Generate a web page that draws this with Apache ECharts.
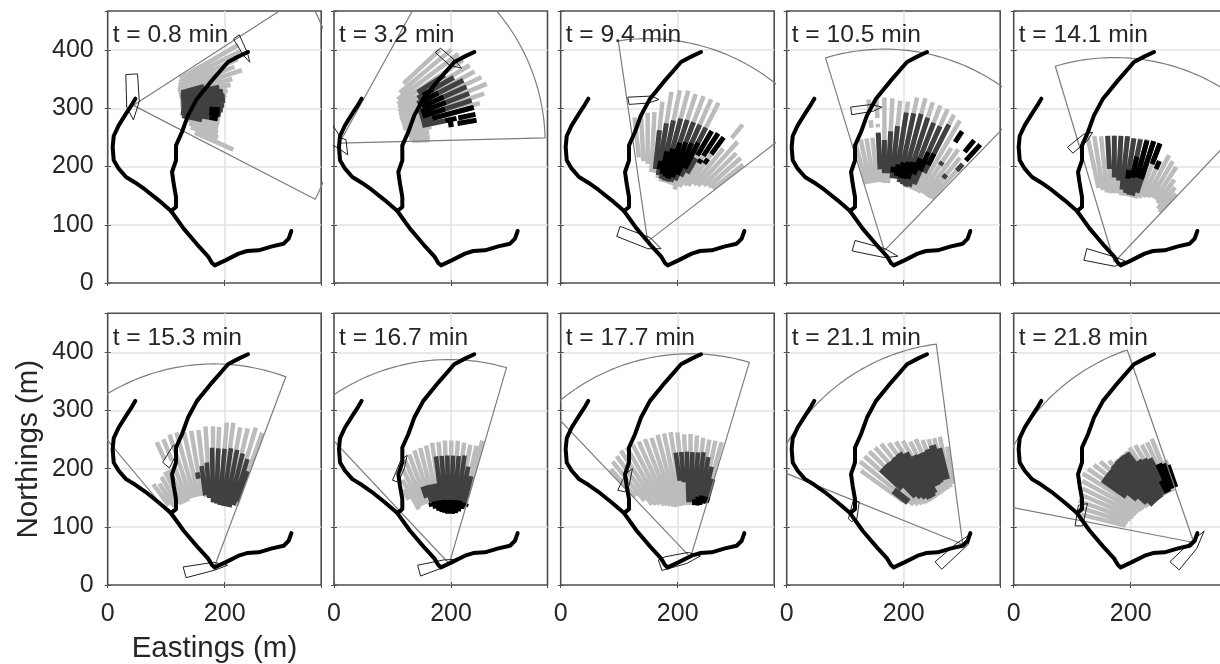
<!DOCTYPE html>
<html><head><meta charset="utf-8">
<style>html,body{margin:0;padding:0;background:#fff;overflow:hidden}#c{width:1220px;height:664px}#c canvas{filter:blur(0.5px)}</style>
<script src="https://cdn.jsdelivr.net/npm/echarts@6/dist/echarts.min.js"></script>
</head><body><div id="c"></div>
<script>
// Shoreline traces, metres (eastings, northings)
const shoreMain=[[47.3,316.5],[41.6,306.7],[31.3,290.7],[18.8,270.7],[10.3,252.4],[8.5,233.5],[10.3,210.6],[18.8,196.3],[31.3,182],[47.3,172.2],[64.4,160.2],[87.2,141.9],[108.3,123.6],[129.9,93.3],[152.7,66.4],[171.5,45.8],[178.3,34.3],[182.9,30.3],[201.1,38.9],[223.9,50.4],[238.2,54.9],[258.1,56.1],[280.9,62.9],[300.9,67.5],[309.4,76.1],[314,89.3]];
const shoreBranch=[[108.3,123.6],[116.8,130.5],[116.8,147.6],[112.8,170.5],[110,190.6],[116.8,210.6],[116.8,236.3],[127,259.2],[137.3,287.8],[152.7,316.5],[178.3,347.9],[205.7,379.4],[223.9,389.1],[239.9,396.6]];
const timesMin=['0.8','3.2','9.4','10.5','14.1','15.3','16.7','17.7','21.1','21.8'];
const xTickLabels=[0,200];
const yTickLabels=[0,100,200,300,400];
// Radar origins [E,N], sector [bearing from, bearing to, range]
const origins=[[44,305],[9,240],[148.7,71.5],[167,55.5],[172,36],[182,30],[197,36.5],[222,47.4],[301,70],[308,73]];
const sectors=[[57,117.4,350],[28.8,88.5,352],[-8.3,52.3,348],[-16.9,44,346],[-16.7,43.4,351],[-39.8,20.5,350],[-43,16.2,351],[-43.4,16.7,350],[-68,-7.5,347],[-79,-19,350]];
// Vessel outlines [E,N]
const boatsA=[[[31,358],[51,359],[54,312],[44,280],[32.5,302]],[[-5,275],[12,249],[20.5,246],[23.4,220],[9,230.5],[-5,238]],[[114.6,319],[155.6,321],[168,315],[149.9,309],[117,306.6]],[[109.4,302],[145,306.6],[162.5,302],[148,295],[111,289]],[[92,233],[119,255],[135,259],[126,244],[101,223]],[[94,211],[112,240],[119,240],[115,220],[105.5,201]],[[100,180],[114,214],[125,223],[120,200],[110,177]],[[97.5,163],[111,191],[122.6,200],[117,171],[110,160]],[[105.5,114],[114,145.6],[124,143],[120,114],[111,109]],[[105,101.6],[110.6,137],[126,140],[118,101.6]]];
const boatsB=[[[215,419],[225,426],[239,395],[243,379],[232,391]],[[173,396],[182.4,403],[207,382],[218,369],[198,373.5]],[[101.5,97.2],[153,77.8],[171.6,58.9],[148.8,58.9],[95.8,80]],[[116.9,73],[168,59],[190,46],[168,43.5],[112,55]],[[125,59],[173,44.6],[190,38],[173,28.6],[120,39]],[[129,31],[181,39],[205,34],[183.5,25.7],[134,12.6]],[[143,34],[187,43],[212.6,44.5],[190,31.4],[148,15.4]],[[167,43],[178.4,48.5],[218,56],[239,50],[215.5,37],[173,25]],[[253.6,40],[291,72],[313.7,87],[310.6,70],[265,27]],[[267,40],[301.5,73],[325.5,92.5],[313,63],[283,26]]];
// Radar beams: [bearing deg, near range m, far range m]
const light1=[[60,92,207],[63,88,205],[66,85,195],[69,82,185],[72,80,195],[75,80,175],[78,80,170],[81,80,163],[84,80,160],[87,80,157],[90,80,155],[93,82,153],[96,85,150],[99,88,150],[102,92,150],[105,95,150],[108,100,152],[111,105,155],[114,115,187]];
const dark1=[[75,85,125],[78,83,150],[81,82,155],[84,82,157],[87,82,157],[90,82,155],[93,82,153],[96,82,150],[99,82,145],[102,85,120]];
const black1=[[93,130,148],[96,130,148],[99,132,146]];
const light2=[[47,150,235],[50,135,250],[53,125,255],[56,120,255],[59,118,260],[62,115,262],[65,113,268],[68,112,272],[71,112,262],[74,112,250],[77,112,170],[80,115,160],[83,118,155],[86,120,155],[88,125,155]];
const dark2=[[57,160,215],[60,155,226],[63,150,238],[66,150,238],[69,145,238],[72,145,238],[75,145,238],[78,145,185]];
const black2=[[60,165,185],[63,160,190],[66,155,195],[69,150,195],[72,150,190],[75,165,238],[78,185,205],[78,208,238],[80.5,189,198],[80.5,205,238]];
const light3=[[-6,145,214],[-3,138,218],[0,133,221],[3,119,222],[6,118,241],[9,110,260],[12,105,265],[15,105,268],[18,105,266],[21,105,267],[24,105,267],[27,100,267],[30,108,190],[33,115,195],[36,118,205],[39,125,205],[39,228,258],[42,128,230],[45,135,214],[48,140,214],[51,143,210]];
const dark3=[[6,125,192],[9,115,205],[12,110,212],[15,108,218],[18,108,219],[21,110,219],[24,115,219],[27,125,219],[30,135,165]];
const black3=[[9,125,140],[12,118,158],[15,115,165],[18,113,178],[21,118,182],[24,125,185],[27,140,190],[30,170,219],[33,175,221],[36,185,221],[33,160,168],[36,165,175]];
const light4=[[-15,118,190],[-12,118,195],[-9,118,195],[-6,118,195],[-6,212,225],[-6,240,261],[-3,118,200],[-3,212,218],[-3,228,263],[0,116,263],[3,116,262],[6,128,259],[9,130,259],[12,125,269],[15,118,271],[18,115,268],[21,115,267],[24,115,266],[27,115,262],[30,115,258],[33,118,210],[36,118,215],[39,118,205],[42,120,195]];
const dark4=[[-3,140,203],[0,133,190],[3,133,205],[6,125,215],[9,125,240],[12,120,241],[15,118,243],[18,116,240],[21,118,235],[24,125,234],[27,150,243],[33,175,182],[39,160,168],[42,185,200]];
const black4=[[6,135,145],[9,130,150],[12,128,155],[15,128,158],[18,130,160],[21,140,170],[24,150,185],[27,165,187],[33,222,244],[39,218,244],[42,208,245]];
const light5=[[-12,130,221],[-9,125,219],[-6,120,217],[-3,118,217],[0,118,217],[3,118,217],[6,115,217],[9,115,215],[12,115,217],[15,115,217],[18,115,218],[21,118,218],[24,122,180],[27,125,206],[30,128,200],[33,128,195],[36,125,175],[39,118,165],[42,115,158]];
const dark5=[[-3,160,217],[0,145,217],[3,140,217],[6,125,217],[9,120,215],[12,118,215],[15,118,217],[18,125,218],[21,185,218]];
const black5=[[9,145,160],[12,148,185],[15,150,215],[18,150,218],[21,180,218],[24,175,190]];
const light6=[[-36,132,177],[-33,125,172],[-30,125,180],[-27,122,185],[-24.5,122,185],[-24.5,205,237],[-21.5,122,185],[-21.5,197,237],[-18.5,125,241],[-15.5,125,241],[-12.5,125,238],[-9.5,125,238],[-6.5,122,238],[-3.5,120,243],[-0.5,115,243],[2,115,242],[5,113,250],[7.5,113,251],[10.5,113,245],[13.5,113,246],[16.5,113,251],[19.5,113,246]];
const dark6=[[-10,155,166],[-7,125,176],[-4,120,181],[-1,112,206],[2,110,205],[5,108,205],[8,107,207],[11,107,206],[14,107,202],[17,112,195],[19,120,175]];
const black6=[];
const light7=[[-32,130,150],[-29,107,165],[-26,110,182],[-23,110,195],[-20,110,200],[-17,125,204],[-14,125,205],[-11,125,207],[-8,125,210],[-5,125,210],[-2,125,212],[1,120,212],[4,120,212],[7,120,210],[10,120,208],[13,120,208],[15,120,219]];
const dark7=[[-19,120,140],[-16,110,140],[-13,108,140],[-10,108,140],[-7,108,186],[-4,108,186],[-1,108,186],[2,108,186],[5,108,186],[8,106,188],[11,105,170],[14,105,155]];
const black7=[[-17,103,110],[-14,98,110],[-11,93,110],[-8,90,110],[-5,88,110],[-2,86,110],[1,86,110],[4,86,110],[7,88,110],[10,92,110],[13,97,108],[16,102,108]];
const light8=[[-42,140,204],[-39,125,212],[-36,112,215],[-33,108,219],[-30,105,219],[-27,100,218],[-24,98,218],[-21,95,218],[-18,92,216],[-15,90,218],[-12,90,218],[-9,90,218],[-6,90,216],[-3,90,212],[0,90,212],[3,90,210],[6,90,207],[9,92,205],[12,95,205],[15,97,205]];
const dark8=[[-8,133,182],[-5,130,182],[-2,95,182],[1,95,181],[4,95,181],[7,95,182],[10,97,175],[13,98,160],[16,100,140]];
const black8=[[4,90,100],[7,90,105],[10,92,108],[13,95,108],[16,98,108]];
const light9=[[-54,125,215],[-51,108,226],[-48,102,226],[-45,98,226],[-42,95,224],[-39,93,222],[-36,92,215],[-33,92,210],[-30,92,205],[-27,93,198],[-24,94,198],[-21,95,192],[-18,97,190],[-15,98,189],[-12,100,189],[-9,105,170]];
const dark9=[[-52,118,150],[-47,141,190],[-44,115,190],[-41,108,189],[-38,102,190],[-35,97,191],[-32,96,185],[-29,100,174],[-26,110,172],[-23,110,172],[-20,112,174],[-17,115,178],[-14,115,170]];
const black9=[];
const light10=[[-76,120,200],[-73,118,205],[-70,115,210],[-67,112,210],[-64,110,212],[-61,108,218],[-58,105,224],[-55,103,221],[-52,100,217],[-49,98,212],[-46,97,202],[-43,95,195],[-40,95,195],[-37,95,195],[-34,95,197],[-31,95,195],[-28,95,190],[-25,95,190],[-22,95,192],[-19,100,150]];
const dark10=[[-55,140,190],[-52,122,190],[-49,105,190],[-46,95,192],[-43,95,193],[-40,95,193],[-37,95,192],[-34,97,170],[-31,97,167],[-28,97,163],[-25,100,145]];
const black10=[[-27,97,120],[-24,100,148],[-21,100,145],[-19,100,140]];

const lightBeams=[light1,light2,light3,light4,light5,light6,light7,light8,light9,light10];
const darkBeams=[dark1,dark2,dark3,dark4,dark5,dark6,dark7,dark8,dark9,dark10];
const blackBeams=[black1,black2,black3,black4,black5,black6,black7,black8,black9,black10];
const beamWidths=[5,5,5,5,5,4.6,4.6,4.6,7,7];

const rad=Math.PI/180;
const polar=(o,b,r)=>[o[0]+r*Math.sin(b*rad),o[1]+r*Math.cos(b*rad)];
function beamSegs(o,list){const d=[];list.forEach(s=>{d.push(polar(o,s[0],s[1]),polar(o,s[0],s[2]),['-','-']);});return d;}
function sectorPath(o,s){const d=[o];for(let i=0;i<=60;i++){d.push(polar(o,s[0]+(s[1]-s[0])*i/60,s[2]));}d.push(o);return d;}
const closed=p=>p.concat([p[0]]);

const lefts=[107.7,334,560.7,786.7,1013.7], W=213.5, tops=[11,313.3], H=[272,271.7];
const FS=25, NFS=29.5, TFS=24.6, TXT='#262626', FONT='"Liberation Sans",Arial,sans-serif', FRAME='#4d4d4d', GL='#e2e2e2';
const XMAX=365, YMAX=467;
const grid=[],xAxis=[],yAxis=[],title=[],series=[];
function line(i,data,color,width,cap){series.push({type:'line',xAxisIndex:i,yAxisIndex:i,data,showSymbol:false,symbol:'none',silent:true,animation:false,clip:true,connectNulls:false,lineStyle:{color,width,cap:cap||'butt',join:'round'}});}
const tick={show:true,inside:true,length:3,lineStyle:{color:FRAME}};
for(let i=0;i<10;i++){
 const row=i<5?0:1,col=i%5;
 grid.push({left:lefts[col],top:tops[row],width:W,height:H[row],outerBoundsMode:'none',show:true,borderColor:FRAME,borderWidth:1.6,backgroundColor:'#fff'});
 xAxis.push({type:'value',gridIndex:i,min:0,max:XMAX,interval:200,
  name:i===5?'Eastings (m)':'',nameLocation:'middle',nameGap:49,nameTextStyle:{fontSize:NFS,color:TXT,fontFamily:FONT},
  axisLine:{show:false},axisTick:tick,splitLine:{show:true,showMinLine:false,showMaxLine:false,lineStyle:{color:GL,width:1.5}},
  axisLabel:{show:row===1,showMaxLabel:false,fontSize:FS,color:TXT,fontFamily:FONT,margin:17,formatter:v=>xTickLabels.includes(v)?String(v):''}});
 yAxis.push({type:'value',gridIndex:i,min:0,max:YMAX,interval:100,
  name:i===5?'Northings (m)':'',nameLocation:'middle',nameGap:64,nameRotate:90,nameTextStyle:{fontSize:NFS,color:TXT,fontFamily:FONT},
  axisLine:{show:false},axisTick:tick,splitLine:{show:true,showMinLine:false,showMaxLine:false,lineStyle:{color:GL,width:1.5}},
  axisLabel:{show:col===0,showMaxLabel:false,fontSize:FS,color:TXT,fontFamily:FONT,margin:14,formatter:v=>yTickLabels.includes(v)?String(v):''}});
 title.push({text:'t = '+timesMin[i]+' min',left:lefts[col],top:tops[row]+7,textStyle:{fontSize:TFS,fontWeight:'normal',color:TXT,fontFamily:FONT}});
 const o=origins[i];
 line(i,beamSegs(o,lightBeams[i]),'#bcbcbc',4.5);
 line(i,beamSegs(o,darkBeams[i]),'#404040',beamWidths[i]);
 line(i,beamSegs(o,blackBeams[i]),'#000',beamWidths[i]);
 line(i,sectorPath(o,sectors[i]),'#7d7d7d',1.2);
 line(i,closed(boatsA[i]),'#222',1);
 line(i,closed(boatsB[i]),'#222',1);
 line(i,shoreMain,'#000',4,'round');
 line(i,shoreBranch,'#000',4,'round');
}
for(let i=0;i<10;i++){
 xAxis.push({type:'value',gridIndex:i,position:'top',min:0,max:XMAX,interval:200,axisLine:{show:false},axisTick:tick,splitLine:{show:false},axisLabel:{show:false}});
 yAxis.push({type:'value',gridIndex:i,position:'right',min:0,max:YMAX,interval:100,axisLine:{show:false},axisTick:tick,splitLine:{show:false},axisLabel:{show:false}});
}
const chart=echarts.init(document.getElementById('c'),null,{renderer:'canvas'});
chart.setOption({animation:false,backgroundColor:'#fff',grid,xAxis,yAxis,title,series});
</script></body></html>
